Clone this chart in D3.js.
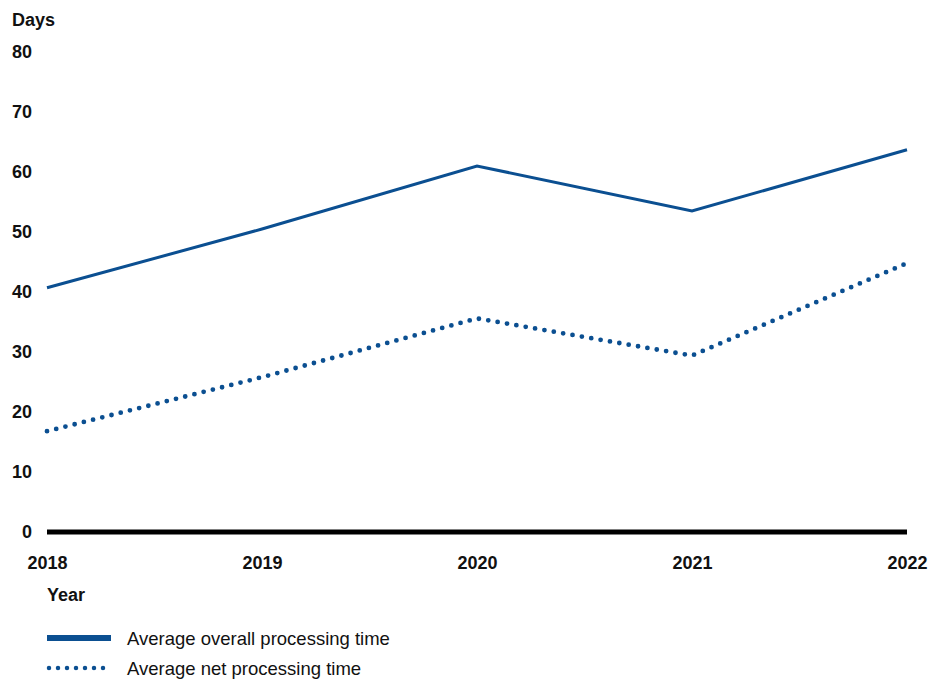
<!DOCTYPE html>
<html><head><meta charset="utf-8">
<script src="https://cdn.jsdelivr.net/npm/d3@7"></script>
<style>
body{margin:0;background:#fff;}
text{font-family:"Liberation Sans",Arial,sans-serif;fill:#111;}
</style></head>
<body>
<svg id="chart" width="934" height="681"></svg>
<script>
const years = [2018, 2019, 2020, 2021, 2022];
const overall = [40.7, 50.5, 61.0, 53.5, 63.7];
const net = [16.8, 25.8, 35.6, 29.4, 44.8];
const yTicks = [0, 10, 20, 30, 40, 50, 60, 70, 80];
const seriesNames = ["Average overall processing time", "Average net processing time"];
const color = "#0b4f91";

const svg = d3.select("#chart");
const x = d3.scalePoint().domain(years).range([47, 907]);
const y = d3.scaleLinear().domain([0, 80]).range([532, 52]);

// y tick labels
const yAxis = d3.axisLeft(y).tickValues(yTicks).tickSize(0).tickPadding(0);
const gy = svg.append("g").attr("transform", "translate(32,0)").call(yAxis);
gy.select(".domain").remove();
gy.selectAll("text").attr("font-size", 18).attr("font-weight", "bold")
  .attr("font-family", "Liberation Sans, Arial, sans-serif").attr("fill", "#111");

svg.append("text").attr("x", 12).attr("y", 26).attr("font-size", 18)
  .attr("font-weight", "bold").text("Days");

// x axis labels
const xAxis = d3.axisBottom(x).tickSize(0).tickPadding(0);
const gx = svg.append("g").attr("transform", "translate(0,556)").call(xAxis);
gx.select(".domain").remove();
gx.selectAll("text").attr("font-size", 18).attr("font-weight", "bold")
  .attr("font-family", "Liberation Sans, Arial, sans-serif").attr("fill", "#111");

// zero baseline
svg.append("line").attr("x1", x(years[0])).attr("x2", x(years[years.length-1]))
  .attr("y1", y(0)).attr("y2", y(0)).attr("stroke", "#000").attr("stroke-width", 5);

svg.append("text").attr("x", 47).attr("y", 601).attr("font-size", 18)
  .attr("font-weight", "bold").text("Year");

const line = d3.line().x((d, i) => x(years[i])).y(d => y(d));

svg.append("path").datum(overall).attr("d", line).attr("fill", "none")
  .attr("stroke", color).attr("stroke-width", 3).attr("stroke-linejoin", "miter");

svg.append("path").datum(net).attr("d", line).attr("fill", "none")
  .attr("stroke", color).attr("stroke-width", 4.8).attr("stroke-linecap", "round")
  .attr("stroke-dasharray", "0,9.5");

// legend
const lg = svg.append("g");
lg.append("line").attr("x1", 47).attr("x2", 111).attr("y1", 638).attr("y2", 638)
  .attr("stroke", color).attr("stroke-width", 6);
lg.append("text").attr("x", 127).attr("y", 645).attr("font-size", 18.5).text(seriesNames[0]);
lg.append("line").attr("x1", 49).attr("x2", 112).attr("y1", 668).attr("y2", 668)
  .attr("stroke", color).attr("stroke-width", 4.5).attr("stroke-linecap", "round")
  .attr("stroke-dasharray", "0,9");
lg.append("text").attr("x", 127).attr("y", 675).attr("font-size", 18.5).text(seriesNames[1]);
</script>
</body></html>
